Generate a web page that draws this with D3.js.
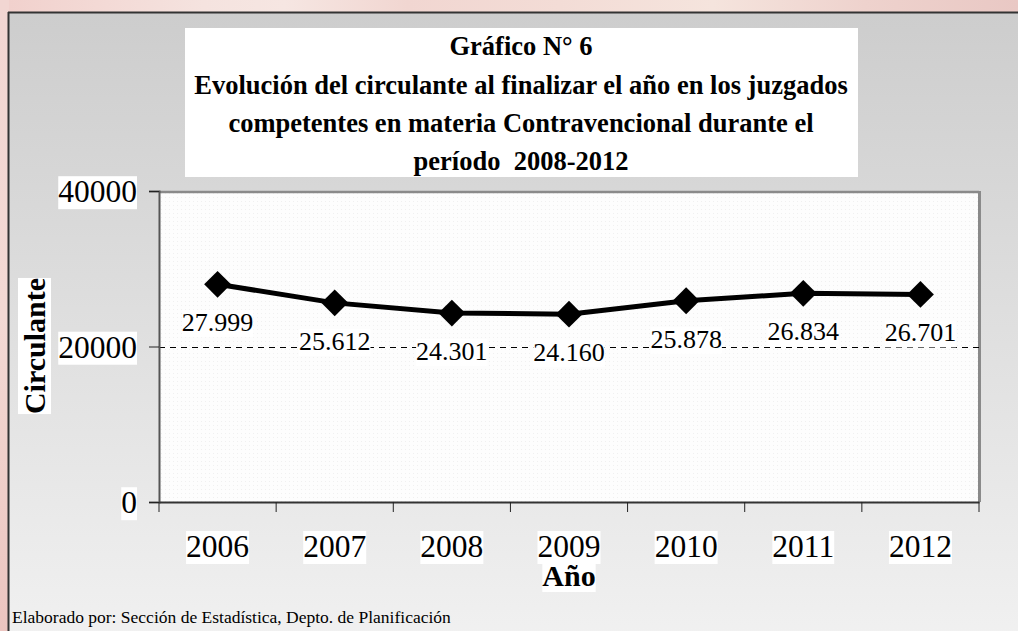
<!DOCTYPE html>
<html><head><meta charset="utf-8">
<script src="https://cdn.jsdelivr.net/npm/d3@7/dist/d3.min.js"></script>
<style>html,body{margin:0;padding:0;overflow:hidden;background:#f0d5d0} text{white-space:pre}</style>
</head><body>
<script>
const years = ["2006","2007","2008","2009","2010","2011","2012"];
const circulante = [27999, 25612, 24301, 24160, 25878, 26834, 26701];
const valueLabels = ["27.999","25.612","24.301","24.160","25.878","26.834","26.701"];
const yTicks = [0, 20000, 40000];
const titleLines = ["Gráfico N° 6",
  "Evolución del circulante al finalizar el año en los juzgados",
  "competentes en materia Contravencional durante el",
  "período  2008-2012"];
const yTitle = "Circulante";
const xTitle = "Año";
const footer = "Elaborado por: Sección de Estadística, Depto. de Planificación";

const W = 1018, H = 631;
const serif = "Liberation Serif";
const svg = d3.select("body").append("svg").attr("width", W).attr("height", H);
const defs = svg.append("defs");

// pink outer background
const pg = defs.append("linearGradient").attr("id","pink").attr("x1","0").attr("x2","1").attr("y1","0").attr("y2","0");
[["0%","#f1d0cc"],["20%","#f5e3df"],["28%","#f6e6e2"],["40%","#f1d6d1"],["55%","#f3dcd6"],["70%","#f5e4dd"],["85%","#eed2cd"],["100%","#e9c8c4"]]
  .forEach(([o,c])=>pg.append("stop").attr("offset",o).attr("stop-color",c));
svg.append("rect").attr("width",W).attr("height",H).attr("fill","url(#pink)");
const pv = defs.append("linearGradient").attr("id","pinkv").attr("x1","0").attr("x2","0").attr("y1","0").attr("y2","1");
[["0%","#f2d6d2"],["50%","#f3d9d4"],["100%","#ecc5c0"]].forEach(([o,c])=>pv.append("stop").attr("offset",o).attr("stop-color",c));
svg.append("rect").attr("x",0).attr("y",0).attr("width",9).attr("height",H).attr("fill","url(#pinkv)");

// frame gradient
const fg = defs.append("linearGradient").attr("id","frame").attr("x1","0").attr("x2","0").attr("y1","0").attr("y2","1");
fg.append("stop").attr("offset","0%").attr("stop-color","#cdcdcd");
fg.append("stop").attr("offset","100%").attr("stop-color","#f1f1f1");
svg.append("rect").attr("x",8).attr("y",12).attr("width",W).attr("height",H).attr("fill","url(#frame)");
svg.append("line").attr("x1",8).attr("x2",W).attr("y1",12.5).attr("y2",12.5).attr("stroke","#333").attr("stroke-width",2);
svg.append("line").attr("x1",8.5).attr("x2",8.5).attr("y1",12).attr("y2",H).attr("stroke","#333").attr("stroke-width",2);

// dotted pattern for plot area
const pat = defs.append("pattern").attr("id","dots").attr("width",4).attr("height",4).attr("patternUnits","userSpaceOnUse");
pat.append("rect").attr("width",4).attr("height",4).attr("fill","#fdfdfd");
pat.append("rect").attr("x",1).attr("y",1).attr("width",1).attr("height",1).attr("fill","#f0f0f0");

// title box
const tb = svg.append("g");
tb.append("rect").attr("x",185).attr("y",28).attr("width",673).attr("height",149).attr("fill","#fff");
const titleY = [55, 94, 132, 170];
titleLines.forEach((t,i)=>{
  tb.append("text").attr("x",521).attr("y",titleY[i]).attr("text-anchor","middle")
    .attr("font-family",serif).attr("font-weight","bold").attr("font-size",26.5).attr("fill","#000").text(t);
});

// scales
const plot = {l:159, r:979, t:191, b:502};
const x = d3.scaleBand().domain(years).range([plot.l, plot.r]).padding(0);
const y = d3.scaleLinear().domain([0,40000]).range([plot.b, plot.t]);

svg.append("rect").attr("x",plot.l).attr("y",plot.t).attr("width",plot.r-plot.l).attr("height",plot.b-plot.t).attr("fill","url(#dots)");
svg.append("line").attr("x1",plot.l).attr("x2",plot.r).attr("y1",plot.t+1).attr("y2",plot.t+1).attr("stroke","#8a8a8a").attr("stroke-width",2.5);
svg.append("line").attr("x1",plot.r+0.5).attr("x2",plot.r+0.5).attr("y1",plot.t).attr("y2",plot.b).attr("stroke","#8a8a8a").attr("stroke-width",3);

// gridline at 20000
svg.append("line").attr("x1",plot.l).attr("x2",plot.r).attr("y1",Math.round(y(20000))+0.5).attr("y2",Math.round(y(20000))+0.5)
  .attr("stroke","#000").attr("stroke-width",1).attr("stroke-dasharray","6,5");

// y axis
const yAxis = svg.append("g").attr("transform",`translate(${plot.l},0)`)
  .call(d3.axisLeft(y).tickValues(yTicks).tickSize(10).tickFormat(d3.format("d")).tickPadding(0));
yAxis.select(".domain").attr("stroke","#555").attr("stroke-width",2);
yAxis.selectAll(".tick line").attr("stroke","#222");
yAxis.selectAll(".tick text").remove();
yAxis.selectAll(".tick").each(function(d){
  const g = d3.select(this);
  const t = g.append("text").attr("x",-22).attr("dy","0.34em").attr("text-anchor","end")
    .attr("font-family",serif).attr("font-size",31.5).attr("fill","#000").text(d3.format("d")(d));
  const bb = t.node().getBBox();
  g.insert("rect","text").attr("x",bb.x).attr("y",bb.y+2).attr("width",bb.width).attr("height",bb.height-2).attr("fill","#fff");
});

// x axis
const xAxis = svg.append("g").attr("transform",`translate(0,${plot.b})`)
  .call(d3.axisBottom(x).tickSize(0).tickFormat(""));
xAxis.select(".domain").attr("stroke","#333").attr("stroke-width",2);
xAxis.selectAll(".tick").remove();
const bounds = years.map(d=>x(d)).concat([x(years[years.length-1])+x.bandwidth()]);
xAxis.selectAll("line.xt").data(bounds).join("line").attr("class","xt")
  .attr("x1",d=>d).attr("x2",d=>d).attr("y1",0).attr("y2",10).attr("stroke","#222").attr("stroke-width",1);
const xl = svg.append("g");
years.forEach(yr=>{
  const t = xl.append("text").attr("x",x(yr)+x.bandwidth()/2).attr("y",557).attr("text-anchor","middle")
    .attr("font-family",serif).attr("font-size",31.5).attr("fill","#000").text(yr);
  const bb = t.node().getBBox();
  xl.insert("rect","text").attr("x",bb.x).attr("y",bb.y+2).attr("width",bb.width).attr("height",bb.height-2).attr("fill","#fff");
});

// line + markers
const cx = (d,i)=>x(years[i])+x.bandwidth()/2;
svg.append("path").datum(circulante)
  .attr("d", d3.line().x(cx).y(d=>y(d)))
  .attr("fill","none").attr("stroke","#000").attr("stroke-width",5).attr("stroke-linejoin","round");
svg.selectAll("path.mk").data(circulante).join("path").attr("class","mk")
  .attr("transform",(d,i)=>`translate(${cx(d,i)},${y(d)})`)
  .attr("d", d3.symbol(d3.symbolDiamond2, 460)).attr("fill","#000");

// value labels
const vl = svg.append("g");
circulante.forEach((v,i)=>{
  const t = vl.append("text").attr("x",cx(v,i)).attr("y",y(v)+47).attr("text-anchor","middle")
    .attr("font-family",serif).attr("font-size",26).attr("fill","#000").text(valueLabels[i]);
  const bb = t.node().getBBox();
  vl.insert("rect","text").attr("x",bb.x).attr("y",bb.y+2).attr("width",bb.width).attr("height",bb.height-2).attr("fill","#fff");
});

// axis titles
const yt = svg.append("g").attr("transform","translate(45,346) rotate(-90)");
const ytt = yt.append("text").attr("text-anchor","middle").attr("font-family",serif).attr("font-weight","bold")
  .attr("font-size",30).attr("fill","#000").text(yTitle);
const ybb = ytt.node().getBBox();
yt.insert("rect","text").attr("x",ybb.x).attr("y",ybb.y).attr("width",ybb.width).attr("height",ybb.height).attr("fill","#fff");

const xt = svg.append("g");
const xtt = xt.append("text").attr("x",569).attr("y",586).attr("text-anchor","middle").attr("font-family",serif).attr("font-weight","bold")
  .attr("font-size",30).attr("fill","#000").text(xTitle);
const xbb = xtt.node().getBBox();
xt.insert("rect","text").attr("x",xbb.x).attr("y",xbb.y+3).attr("width",xbb.width).attr("height",xbb.height-3).attr("fill","#fff");

// footer
svg.append("text").attr("x",12).attr("y",623).attr("font-family",serif).attr("font-size",17.5).attr("fill","#000").text(footer);
</script>
</body></html>
